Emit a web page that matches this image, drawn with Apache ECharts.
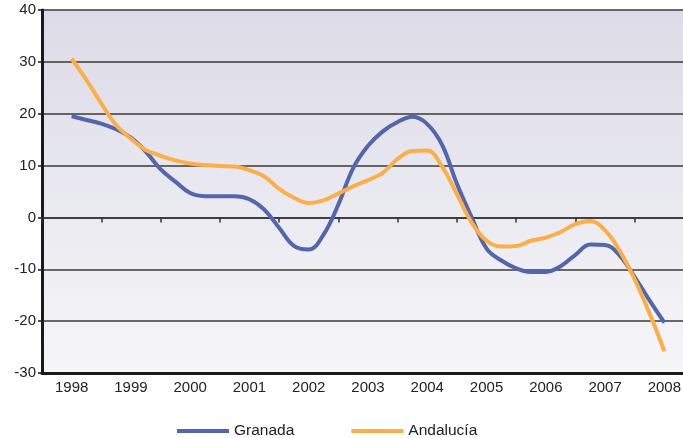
<!DOCTYPE html>
<html>
<head>
<meta charset="utf-8">
<script src="https://cdn.jsdelivr.net/npm/echarts@6/dist/echarts.min.js"></script>
<style>html,body{margin:0;padding:0;background:#fff}#c{width:683px;height:438px}</style>
</head>
<body>
<div id="c"></div>
<script>
var years = ['1998','1999','2000','2001','2002','2003','2004','2005','2006','2007','2008'];
var yTicks = [-30,-20,-10,0,10,20,30,40];
// quarterly positions (years since 1998, label-centred)
var steps = [0,0.25,0.5,0.75,1,1.25,1.5,1.75,2,2.25,2.5,2.75,3,3.25,3.5,3.75,4,4.25,4.5,4.75,5,5.25,5.5,5.75,6,6.25,6.5,6.75,7,7.25,7.5,7.75,8,8.25,8.5,8.75,9,9.25,9.5,9.75,10];
var granada = [19.5,18.8,18.1,17.0,15.4,12.7,9.3,6.9,4.7,4.1,4.1,4.1,3.5,1.5,-2.0,-5.5,-6.2,-3.3,2.5,9.5,13.8,16.6,18.4,19.4,18.0,14.0,6.5,0.0,-6.0,-8.3,-9.8,-10.5,-10.5,-9.4,-7.2,-5.2,-5.3,-7.4,-11.5,-16.0,-20.3];
var andalucia = [30.6,26.5,22.0,17.8,15.2,13.0,11.9,11.0,10.4,10.1,9.9,9.8,9.1,7.9,5.5,3.8,2.8,3.3,4.6,6.0,7.2,8.6,11.3,12.8,12.9,9.8,4.5,-1.0,-4.5,-5.6,-5.5,-4.5,-3.9,-2.8,-1.3,-0.7,-2.5,-6.5,-12.0,-18.5,-25.8];

function pairs(v){ return steps.map(function(s,i){ return [s, v[i]]; }); }

var chart = echarts.init(document.getElementById('c'), null, {renderer:'canvas'});
var font = '"Liberation Sans", Arial, sans-serif';
chart.setOption({
  animation: false,
  textStyle: {fontFamily: font},
  grid: {
    left: 42, top: 10, width: 652, height: 363, show: true, borderWidth: 0,
    outerBoundsMode: 'none', containLabel: false,
    backgroundColor: new echarts.graphic.LinearGradient(0,0,0,1,[
      {offset:0, color:'#dcdbe7'},{offset:1, color:'#f6f6f9'}])
  },
  legend: {
    left: 172, top: 418, itemWidth: 52, itemHeight: 4, itemGap: 57, icon: 'rect',
    textStyle: {fontSize: 15.5, color: '#222', fontFamily: font},
    data: ['Granada','Andalucía']
  },
  xAxis: [
    { type: 'category', data: years, boundaryGap: true, position: 'bottom',
      axisLine: {onZero: false, lineStyle: {color: '#1a1a1a', width: 3}},
      axisTick: {show: false},
      axisLabel: {fontSize: 15, color: '#222', margin: 7, fontFamily: font, interval: 0},
      splitLine: {show: false} },
    { type: 'category', data: years, boundaryGap: true, position: 'bottom',
      axisLine: {onZero: true, lineStyle: {color: '#333', width: 1.5}},
      axisTick: {show: true, length: 5, lineStyle: {color: '#333', width: 1.5}},
      axisLabel: {show: false}, splitLine: {show: false} },
    { type: 'value', min: -0.5, max: 10.5, show: false }
  ],
  yAxis: {
    type: 'value', min: -30, max: 40, interval: 10,
    axisLine: {show: true, onZero: false, lineStyle: {color: '#1a1a1a', width: 3}},
    axisTick: {show: true, length: 4, lineStyle: {color: '#1a1a1a', width: 1.5}},
    axisLabel: {fontSize: 15, color: '#222', margin: 6, fontFamily: font},
    splitLine: {show: true, lineStyle: {color: '#3a3a3a', width: 1.5}}
  },
  series: [
    { name: 'Granada', type: 'line', xAxisIndex: 2, data: pairs(granada), smooth: 0.4,
      showSymbol: false, symbol: 'none', color: '#5265ad',
      lineStyle: {width: 4, color: '#5265ad'} },
    { name: 'Andalucía', type: 'line', xAxisIndex: 2, data: pairs(andalucia), smooth: 0.4,
      showSymbol: false, symbol: 'none', color: '#fcae48',
      lineStyle: {width: 4, color: '#fcae48'} }
  ]
});
</script>
</body>
</html>
